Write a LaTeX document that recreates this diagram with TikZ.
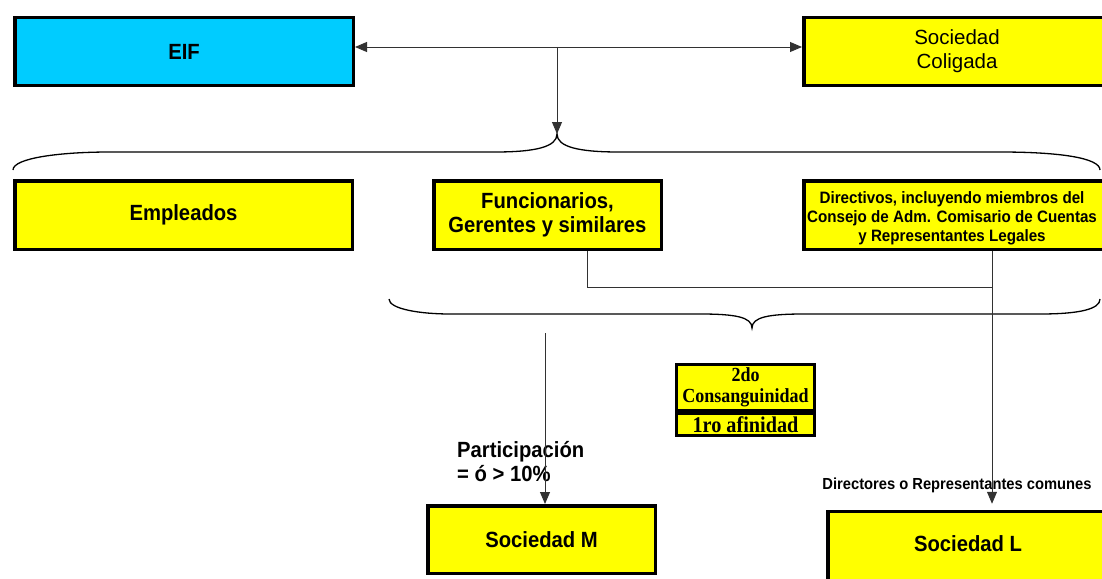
\documentclass[tikz,border=0pt]{standalone}
\usepackage{fontspec}
\setmainfont{Liberation Sans}
\newfontfamily\sansn[FakeStretch=0.92]{Liberation Sans}
\newfontfamily\serifn[FakeStretch=0.9]{Liberation Serif}
\usetikzlibrary{arrows.meta,calc}
\definecolor{boxyellow}{RGB}{255,255,0}
\definecolor{eifcyan}{RGB}{0,204,255}
\definecolor{linegray}{RGB}{50,50,50}

\begin{document}
\begin{tikzpicture}[x=1pt,y=-1pt,
  box/.style={draw=black, line width=3.5pt, fill=boxyellow, inner sep=0pt,
    align=center, font=\sansn\bfseries\fontsize{22}{24.5}\selectfont},
  smallbox/.style={box, line width=3pt, font=\serifn\bfseries\fontsize{20}{20.5}\selectfont},
  conn/.style={draw=linegray, line width=0.9pt},
  tip/.style={-{Triangle[length=12pt,width=10pt]}},
  bothtips/.style={{Triangle[length=12pt,width=10pt]}-{Triangle[length=12pt,width=10pt]}},
  bracepath/.style={draw=black, line width=1.3pt},
  label/.style={inner sep=0pt, font=\sansn\bfseries\fontsize{22}{24}\selectfont},
]
\useasboundingbox (0,0) rectangle (1102,578);
\clip (0,0) rectangle (1102,578);

% top row
\node[box, fill=eifcyan, minimum width=338.5pt, minimum height=67.5pt] (eif) at (184,51.5) {EIF};
\node[box, minimum width=306.5pt, minimum height=67.5pt,
  font=\normalfont\fontsize{20.5}{24}\selectfont] (col) at (957,51.5) {Sociedad\\Coligada};

% second row
\node[box, minimum width=337.5pt, minimum height=68.5pt] (emp) at (183.5,215) {Empleados};
\node[box, minimum width=227.5pt, minimum height=68.5pt] (fun) at (547.5,215) {Funcionarios,\\Gerentes y similares};
\node[box, minimum width=304.5pt, minimum height=68.5pt] (dir) at (956,215) {};
\node[inner sep=0pt, align=center, font=\sansn\bfseries\fontsize{16.5}{19}\selectfont] (dirtxt) at (952,218.5)
  {Directivos, incluyendo miembros del\\Consejo de Adm. Comisario de Cuentas\\y Representantes Legales};

% degree of kinship
\node[smallbox, minimum width=138pt, minimum height=46pt] (cons) at (745.5,387.5) {2do\\Consanguinidad};
\node[smallbox, minimum width=138pt, minimum height=22pt,
  font=\serifn\bfseries\fontsize{22.5}{22}\selectfont] (afin) at (745.5,424.5) {1ro afinidad};

% bottom row
\node[box, minimum width=227.5pt, minimum height=67.5pt] (socm) at (541.5,539.5) {Sociedad M};
\node[box, minimum width=280.5pt, minimum height=76pt] (socl) at (968,549.5) {};
\node[inner sep=0pt, font=\sansn\bfseries\fontsize{22}{24}\selectfont] (socltxt) at (968,544) {Sociedad L};

% labels
\node[label, align=left, anchor=west] (part) at (457,462) {Participación\\= ó > 10\%};
\node[label, font=\sansn\bfseries\fontsize{16}{18}\selectfont] (dirc) at (957,485)
  {Directores o Representantes comunes};

% braces
\coordinate (b1) at (557,134);
\draw[bracepath] (13,170) .. controls (13,158) and (60,152) .. (110,152) -- (495,152)
  .. controls (535,152) and (557,147) .. (b1)
  .. controls (557,147) and (579,152) .. (619,152) -- (1000,152)
  .. controls (1060,152) and (1100,158) .. (1100,170);
\draw[bracepath] (389,299) .. controls (389,309) and (420,314) .. (450,314) -- (700,314)
  .. controls (735,314) and (752,317) .. (752,328)
  .. controls (752,317) and (769,314) .. (804,314) -- (1040,314)
  .. controls (1080,314) and (1100,309) .. (1100,299);

% connectors
\coordinate (j) at (557,47);
\coordinate (fk) at (587,287);
\coordinate (dl) at (992,287);
\coordinate (ms) at (545,333);
\draw[conn, bothtips] (eif.east |- j) -- (col.west |- j);
\draw[conn, tip] (j) -- (b1);
\draw[conn] (fk |- fun.south) -- (fk) -- (dl);
\draw[conn, tip, shorten >=6pt] (dl |- dir.south) -- (dl |- socl.north);
\draw[conn, tip] (ms) -- (ms |- socm.north);
\end{tikzpicture}
\end{document}
